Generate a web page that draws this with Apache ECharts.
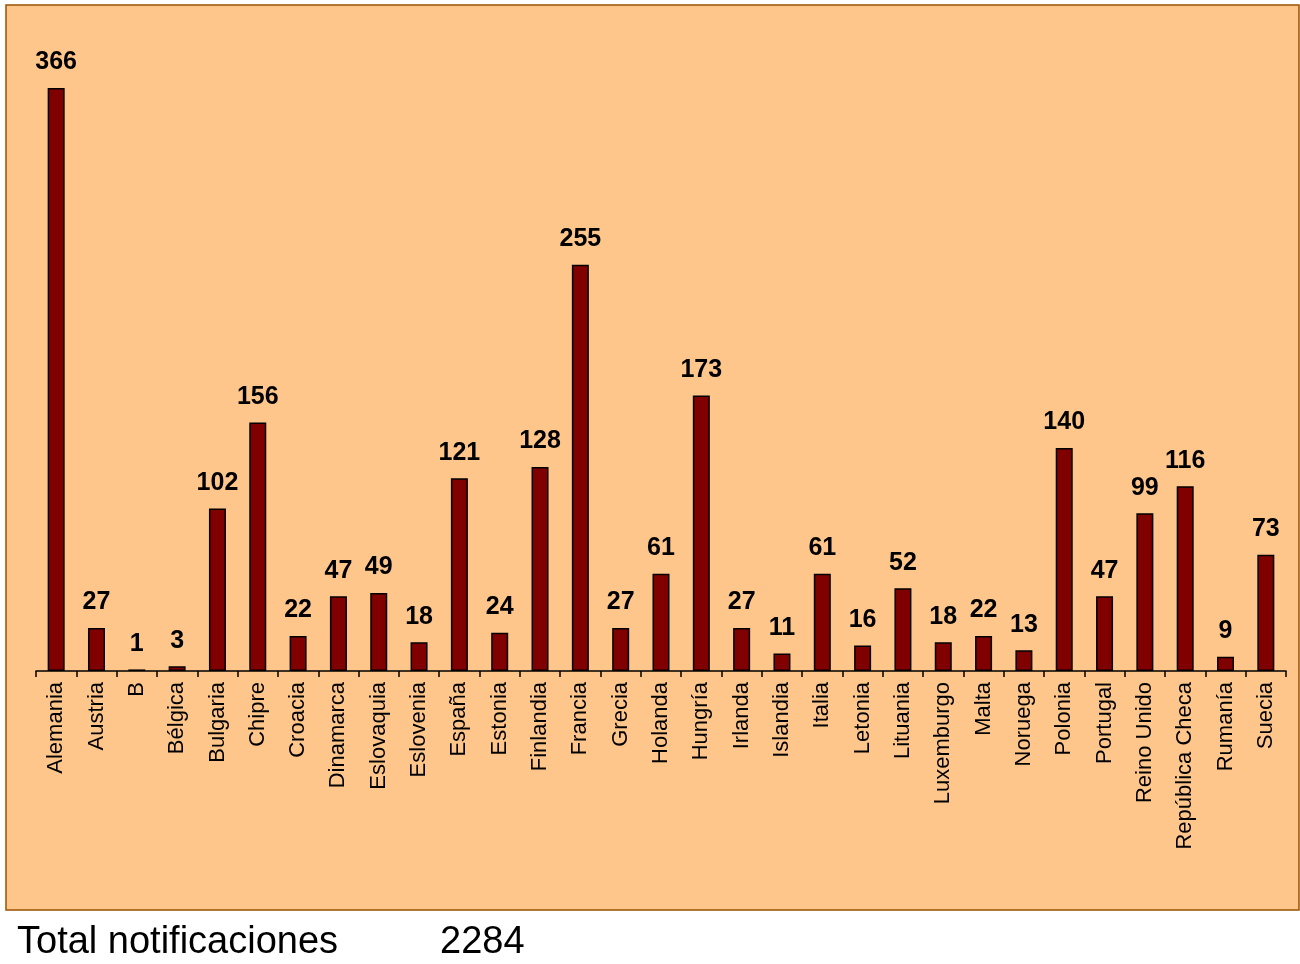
<!DOCTYPE html>
<html>
<head>
<meta charset="utf-8">
<script src="https://cdn.jsdelivr.net/npm/echarts@6/dist/echarts.min.js"></script>
<style>
  html, body { margin: 0; padding: 0; background: #fff; }
  #chart { width: 1300px; height: 964px; }
</style>
</head>
<body>
<div id="chart"></div>
<script>
  // datos por pais
  var paises = ['Alemania', 'Austria', 'B', 'Bélgica', 'Bulgaria', 'Chipre', 'Croacia', 'Dinamarca',
    'Eslovaquia', 'Eslovenia', 'España', 'Estonia', 'Finlandia', 'Francia', 'Grecia', 'Holanda',
    'Hungría', 'Irlanda', 'Islandia', 'Italia', 'Letonia', 'Lituania', 'Luxemburgo', 'Malta',
    'Noruega', 'Polonia', 'Portugal', 'Reino Unido', 'República Checa', 'Rumanía', 'Suecia'];
  var notificaciones = [366, 27, 1, 3, 102, 156, 22, 47, 49, 18, 121, 24, 128, 255, 27, 61,
    173, 27, 11, 61, 16, 52, 18, 22, 13, 140, 47, 99, 116, 9, 73];
  var totalTexto = 'Total notificaciones';
  var total = 2284;

  var chart = echarts.init(document.getElementById('chart'));
  var option = {
    backgroundColor: '#ffffff',
    animation: false,
    textStyle: { fontFamily: 'Liberation Sans, Arial, sans-serif' },
    graphic: [
      {
        type: 'rect', z: -10,
        shape: { x: 6, y: 5, width: 1293, height: 905 },
        style: { fill: '#FFC68B', stroke: '#9A5200', lineWidth: 1.5 }
      },
      {
        type: 'text', left: 17, top: 924,
        style: { text: totalTexto, font: '38px Liberation Sans', fill: '#000' }
      },
      {
        type: 'text', left: 440, top: 924,
        style: { text: String(total), font: '38px Liberation Sans', fill: '#000' }
      }
    ],
    grid: { left: 36, right: 14, top: 88, bottom: 293 },
    xAxis: {
      type: 'category',
      data: paises,
      axisLine: { lineStyle: { color: '#000', width: 1.5 } },
      axisTick: { show: true, length: 6, lineStyle: { color: '#000', width: 1.5 } },
      axisLabel: { rotate: 90, fontSize: 22, color: '#000', margin: 11, interval: 0 }
    },
    yAxis: {
      type: 'value',
      min: 0,
      max: 366,
      show: false,
      splitLine: { show: false }
    },
    series: [{
      type: 'bar',
      data: notificaciones,
      barWidth: 17,
      itemStyle: { color: '#800000', borderColor: '#000', borderWidth: 1.5 },
      label: {
        show: true, position: 'top', distance: 13,
        fontSize: 25, fontWeight: 'bold', color: '#000'
      }
    }]
  };
  chart.setOption(option);
</script>
</body>
</html>
